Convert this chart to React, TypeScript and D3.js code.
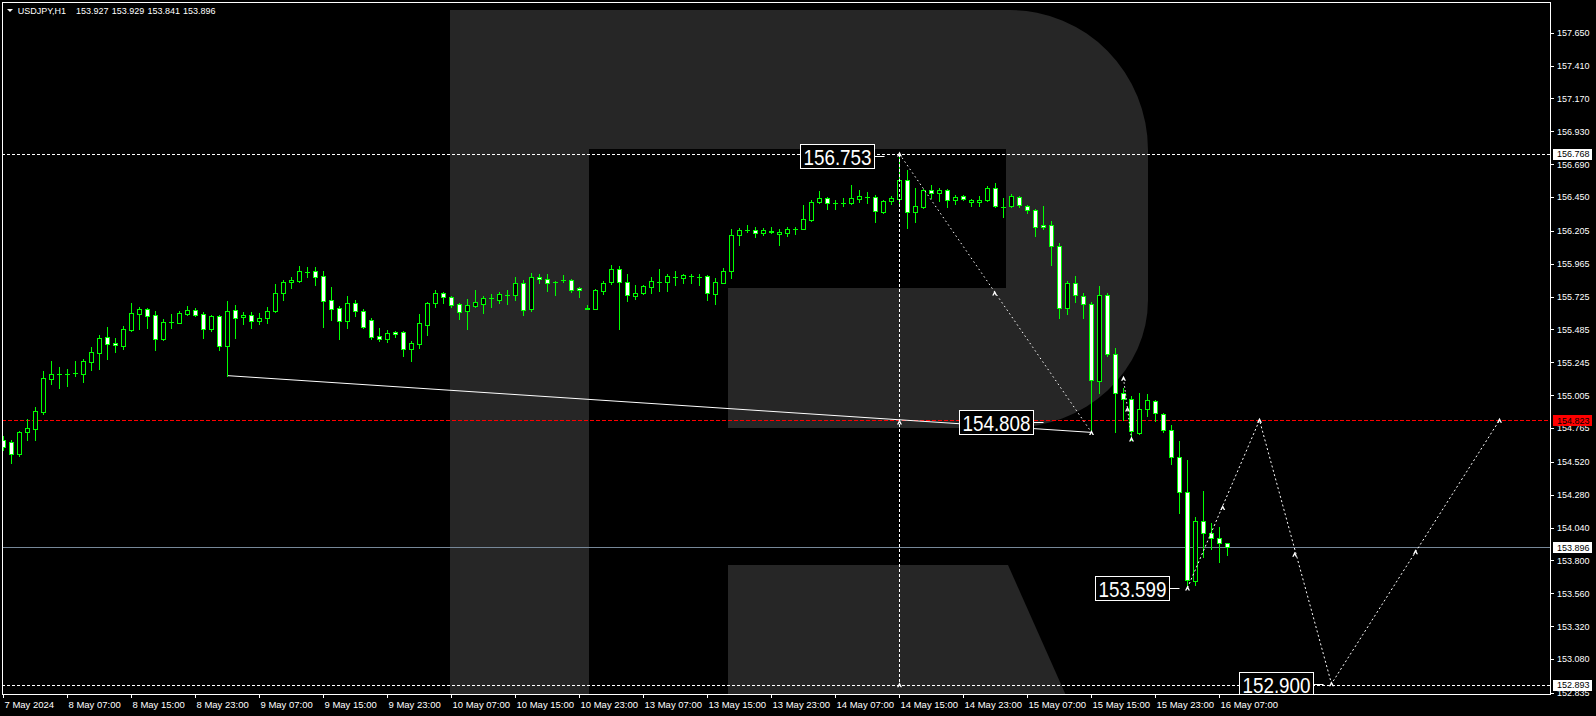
import React from 'react';
import * as d3 from 'd3';

const W = 1596;
const H = 716;

const symbolTitle = 'USDJPY,H1';
const headerValues = ['153.927', '153.929', '153.841', '153.896'];

const opens = [
  154.678, 154.661, 154.578, 154.739, 154.761, 154.885, 155.125, 155.157, 155.160, 155.165,
  155.162, 155.250, 155.315, 155.428, 155.384, 155.366, 155.481, 155.600, 155.632, 155.588,
  155.417, 155.539, 155.534, 155.600, 155.625, 155.596, 155.490, 155.581, 155.366, 155.625,
  155.574, 155.588, 155.545, 155.566, 155.618, 155.749, 155.829, 155.841, 155.904, 155.909,
  155.875, 155.698, 155.639, 155.549, 155.676, 155.618, 155.552, 155.437, 155.417, 155.464,
  155.464, 155.344, 155.381, 155.520, 155.680, 155.749, 155.720, 155.669, 155.622, 155.658,
  155.673, 155.712, 155.702, 155.734, 155.734, 155.822, 155.637, 155.866, 155.851, 155.830,
  155.844, 155.844, 155.786, 155.637, 155.637, 155.768, 155.829, 155.924, 155.829, 155.731,
  155.753, 155.797, 155.831, 155.831, 155.870, 155.863, 155.877, 155.866, 155.873, 155.746,
  155.826, 155.909, 156.172, 156.211, 156.213, 156.191, 156.206, 156.179, 156.191, 156.220,
  156.220, 156.286, 156.417, 156.442, 156.410, 156.410, 156.410, 156.439, 156.454, 156.449,
  156.344, 156.420, 156.439, 156.573, 156.344, 156.381, 156.500, 156.478, 156.500, 156.427,
  156.456, 156.412, 156.412, 156.427, 156.515, 156.381, 156.384, 156.449, 156.384, 156.354,
  156.245, 156.245, 156.092, 155.639, 155.822, 155.727, 155.669, 155.107, 155.734, 155.304,
  155.019, 154.976, 154.732, 154.903, 154.961, 154.866, 154.749, 154.552, 154.297, 153.652,
  154.085, 153.998, 153.961, 153.927,
];

const highs = [
  154.707, 154.678, 154.744, 154.831, 154.919, 155.182, 155.255, 155.209, 155.197, 155.255,
  155.269, 155.357, 155.444, 155.502, 155.420, 155.510, 155.678, 155.649, 155.642, 155.618,
  155.559, 155.598, 155.618, 155.656, 155.642, 155.612, 155.590, 155.590, 155.693, 155.664,
  155.612, 155.612, 155.605, 155.647, 155.817, 155.846, 155.868, 155.948, 155.941, 155.941,
  155.912, 155.795, 155.656, 155.729, 155.700, 155.632, 155.566, 155.497, 155.481, 155.474,
  155.474, 155.400, 155.600, 155.685, 155.773, 155.758, 155.729, 155.676, 155.705, 155.773,
  155.727, 155.742, 155.756, 155.773, 155.868, 155.846, 155.895, 155.888, 155.888, 155.839,
  155.880, 155.851, 155.797, 155.661, 155.778, 155.837, 155.953, 155.946, 155.890, 155.807,
  155.810, 155.866, 155.926, 155.888, 155.910, 155.888, 155.888, 155.888, 155.880, 155.863,
  155.934, 156.216, 156.223, 156.245, 156.230, 156.223, 156.230, 156.216, 156.230, 156.230,
  156.393, 156.432, 156.495, 156.454, 156.427, 156.442, 156.539, 156.500, 156.488, 156.463,
  156.430, 156.457, 156.765, 156.646, 156.515, 156.508, 156.537, 156.515, 156.508, 156.463,
  156.466, 156.437, 156.456, 156.529, 156.551, 156.442, 156.471, 156.456, 156.391, 156.361,
  156.384, 156.274, 156.114, 155.837, 155.873, 155.749, 155.683, 155.804, 155.749, 155.348,
  155.056, 154.998, 155.019, 155.012, 154.971, 154.873, 154.786, 154.669, 154.533, 154.115,
  154.304, 154.071, 154.042, 153.929,
];

const lows = [
  154.605, 154.511, 154.561, 154.678, 154.681, 154.866, 155.087, 155.060, 155.072, 155.146,
  155.104, 155.189, 155.197, 155.269, 155.322, 155.342, 155.474, 155.490, 155.497, 155.337,
  155.408, 155.498, 155.530, 155.593, 155.585, 155.424, 155.476, 155.337, 155.148, 155.424,
  155.527, 155.497, 155.527, 155.534, 155.612, 155.700, 155.790, 155.831, 155.868, 155.810,
  155.503, 155.554, 155.417, 155.497, 155.585, 155.497, 155.417, 155.403, 155.393, 155.428,
  155.291, 155.255, 155.352, 155.445, 155.651, 155.676, 155.651, 155.563, 155.490, 155.647,
  155.607, 155.651, 155.680, 155.673, 155.702, 155.593, 155.622, 155.822, 155.764, 155.739,
  155.830, 155.756, 155.724, 155.632, 155.632, 155.746, 155.815, 155.485, 155.690, 155.705,
  155.746, 155.753, 155.766, 155.766, 155.812, 155.826, 155.826, 155.807, 155.702, 155.671,
  155.824, 155.863, 156.104, 156.198, 156.162, 156.176, 156.189, 156.104, 156.169, 156.179,
  156.216, 156.274, 156.410, 156.366, 156.366, 156.388, 156.402, 156.417, 156.405, 156.272,
  156.336, 156.398, 156.405, 156.223, 156.271, 156.371, 156.442, 156.420, 156.376, 156.398,
  156.427, 156.384, 156.384, 156.420, 156.381, 156.303, 156.376, 156.376, 156.332, 156.169,
  156.216, 155.954, 155.566, 155.596, 155.683, 155.566, 154.734, 155.019, 155.289, 154.734,
  154.825, 154.678, 154.722, 154.856, 154.820, 154.734, 154.501, 154.144, 153.599, 153.619,
  153.822, 153.887, 153.791, 153.841,
];

const closes = [
  154.625, 154.578, 154.734, 154.764, 154.888, 155.128, 155.157, 155.159, 155.161, 155.166,
  155.252, 155.318, 155.420, 155.381, 155.369, 155.486, 155.603, 155.632, 155.585, 155.417,
  155.537, 155.540, 155.603, 155.625, 155.593, 155.490, 155.581, 155.366, 155.618, 155.566,
  155.588, 155.545, 155.566, 155.618, 155.749, 155.829, 155.844, 155.912, 155.905, 155.870,
  155.695, 155.637, 155.549, 155.676, 155.622, 155.501, 155.428, 155.417, 155.459, 155.449,
  155.344, 155.386, 155.530, 155.676, 155.749, 155.720, 155.666, 155.615, 155.661, 155.683,
  155.712, 155.713, 155.742, 155.735, 155.822, 155.625, 155.866, 155.851, 155.822, 155.831,
  155.845, 155.771, 155.771, 155.638, 155.771, 155.822, 155.924, 155.829, 155.734, 155.749,
  155.800, 155.837, 155.832, 155.873, 155.871, 155.880, 155.878, 155.867, 155.749, 155.829,
  155.909, 156.172, 156.208, 156.212, 156.191, 156.208, 156.194, 156.194, 156.216, 156.221,
  156.289, 156.413, 156.442, 156.410, 156.411, 156.411, 156.442, 156.459, 156.455, 156.346,
  156.420, 156.442, 156.573, 156.344, 156.386, 156.500, 156.478, 156.500, 156.427, 156.449,
  156.434, 156.427, 156.427, 156.515, 156.384, 156.382, 156.456, 156.391, 156.354, 156.230,
  156.230, 156.092, 155.639, 155.822, 155.734, 155.669, 155.114, 155.734, 155.304, 155.019,
  154.976, 154.742, 154.903, 154.968, 154.873, 154.749, 154.552, 154.297, 153.655, 154.085,
  153.998, 153.961, 153.925, 153.896,
];

const timeLabels = [
  '7 May 2024', '8 May 07:00', '8 May 15:00', '8 May 23:00', '9 May 07:00', '9 May 15:00',
  '9 May 23:00', '10 May 07:00', '10 May 15:00', '10 May 23:00', '13 May 07:00', '13 May 15:00',
  '13 May 23:00', '14 May 07:00', '14 May 15:00', '14 May 23:00', '15 May 07:00', '15 May 15:00',
  '15 May 23:00', '16 May 07:00',
];
const barsPerLabel = 8;

const priceTicks = [
  '157.650', '157.410', '157.170', '156.930', '156.690', '156.450', '156.205', '155.965',
  '155.725', '155.485', '155.245', '155.005', '154.765', '154.520', '154.280', '154.040',
  '153.800', '153.560', '153.320', '153.080', '152.835',
];

// horizontal levels
const highLevel = 156.768;
const lowLevel = 152.893;
const askLevel = 154.823;
const bidLevel = 153.896;

// analysis drawings (bar index, price)
const trendIdx = [28, 136];
const diagIdx = [112, 136];
const diagPrice = [156.765, 154.734];
const forecastIdx = [148, 157, 166, 187];
const forecastPrice = [153.599, 154.823, 152.9, 154.823];
const smallPathIdx = [140, 141];
const smallPathPrice = [155.129, 154.686];
const verticalIdx = 112;

const markerIdx = [112, 112, 112, 123.9, 136, 140, 140.5, 141, 148, 152.4, 157, 161.4, 166, 176.5, 187];
const markerPrice = [156.765, 154.81, 152.893, 155.751, 154.734, 155.129, 154.905, 154.686, 153.599, 154.187, 154.823, 153.845, 152.9, 153.864, 154.823];

const boxTexts = ['156.753', '154.808', '153.599', '152.900'];
const boxPrices = [156.753, 154.808, 153.599, 152.9];
const boxIdx = [104.2, 124.1, 141.1, 159.0];

const PL = 2, PT = 2, PR = 1550, PB = 694;
const GREEN = '#00ff00';
const FONT = '"Liberation Sans", Arial, sans-serif';

export default function App() {
  const x = d3.scaleLinear().domain([0, 1]).range([3.5, 11.5]);
  const y = d3.scaleLinear().domain([152.835, 157.65]).range([692.7, 32.7]);

  const candles = opens.map((o, i) => ({ o, h: highs[i], l: lows[i], c: closes[i], i }));

  const line = d3.line<[number, number]>().x(d => d[0]).y(d => d[1]);

  const trendPts: [number, number][] = trendIdx.map(i => [x(i), y(lows[i])]);
  const diagPts: [number, number][] = diagIdx.map((i, k) => [x(i), y(diagPrice[k])]);
  const forecastPts: [number, number][] = forecastIdx.map((i, k) => [x(i), y(forecastPrice[k])]);
  const smallPts: [number, number][] = smallPathIdx.map((i, k) => [x(i), y(smallPathPrice[k])]);

  const markerPath = 'M-2.5,2.5 L0,-2.5 L2.5,2.5 L1,2.5 L0,0.5 L-1,2.5 Z';

  const px = (v: number) => Math.round(v) + 0.5;

  const axisBoxes = [
    { v: highLevel, bg: '#ffffff', fg: '#000000' },
    { v: askLevel, bg: '#ff0000', fg: '#000000' },
    { v: bidLevel, bg: '#ffffff', fg: '#000000' },
    { v: lowLevel, bg: '#ffffff', fg: '#000000' },
  ];

  return (
    <div style={{ position: 'absolute', left: 0, top: 0, width: W, height: H, background: '#000' }}>
      <svg width={W} height={H} style={{ display: 'block' }} fontFamily={FONT}>
        <defs>
          <clipPath id="plot">
            <rect x={PL} y={PT} width={PR - PL} height={PB - PT} />
          </clipPath>
        </defs>
        <rect x={0} y={0} width={W} height={H} fill="#000" />

        {/* watermark R */}
        <g clipPath="url(#plot)" fill="#262626">
          <path d="M450,10 H1010 A138,140 0 0 1 1148,150 V300 A138,128 0 0 1 1010,428 H728 V288 H1006 V149 H589 V700 H450 Z" />
          <path d="M728,565 H1008 L1068,700 H728 Z" />
        </g>

        <g clipPath="url(#plot)">
          {/* horizontal level lines */}
          <line x1={PL} x2={PR} y1={px(y(highLevel))} y2={px(y(highLevel))} stroke="#fff" strokeDasharray="3,2" shapeRendering="crispEdges" />
          <line x1={PL} x2={PR} y1={px(y(lowLevel))} y2={px(y(lowLevel))} stroke="#fff" strokeDasharray="3,2" shapeRendering="crispEdges" />
          <line x1={PL} x2={PR} y1={px(y(askLevel))} y2={px(y(askLevel))} stroke="#ff0000" strokeDasharray="4,2" shapeRendering="crispEdges" />
          <line x1={PL} x2={PR} y1={px(y(bidLevel))} y2={px(y(bidLevel))} stroke="#778899" shapeRendering="crispEdges" />

          {/* trend line */}
          <path d={line(trendPts) || ''} stroke="#fff" fill="none" strokeWidth={1} />

          {/* candles */}
          <g shapeRendering="crispEdges">
            {candles.map(d => {
              const cx = x(d.i);
              const yo = y(d.o), yc = y(d.c);
              const top = Math.round(Math.min(yo, yc));
              const bot = Math.round(Math.max(yo, yc));
              const bull = d.c > d.o;
              return (
                <g key={d.i}>
                  <line x1={cx} x2={cx} y1={Math.round(y(d.h))} y2={Math.round(y(d.l)) + 1} stroke={GREEN} />
                  {bot - top < 1 ? (
                    <line x1={cx - 2.5} x2={cx + 2.5} y1={top + 0.5} y2={top + 0.5} stroke={GREEN} />
                  ) : (
                    <rect x={cx - 2} y={top + 0.5} width={4} height={bot - top} fill={bull ? '#000' : '#fff'} stroke={GREEN} />
                  )}
                </g>
              );
            })}
          </g>

          {/* vertical dashed line */}
          <line x1={px(x(verticalIdx) - 0.5)} x2={px(x(verticalIdx) - 0.5)} y1={y(diagPrice[0])} y2={y(lowLevel)} stroke="#fff" strokeDasharray="3,2" shapeRendering="crispEdges" />

          {/* dotted diagonal */}
          <path d={line(diagPts) || ''} stroke="#fff" fill="none" strokeDasharray="1.5,3" />
          {/* forecast path */}
          <path d={line(forecastPts) || ''} stroke="#fff" fill="none" strokeDasharray="2,2.5" />
          <path d={line(smallPts) || ''} stroke="#fff" fill="none" strokeDasharray="1.5,2.5" />

          {/* markers */}
          {markerIdx.map((mi, k) => (
            <path key={k} d={markerPath} transform={`translate(${x(mi)},${y(markerPrice[k])})`} fill="#fff" />
          ))}

          {/* label boxes */}
          {boxTexts.map((t, k) => {
            const cx = x(boxIdx[k]);
            const cy = y(boxPrices[k]);
            const bw = 74, bh = 24;
            const left = Math.round(cx - bw / 2) + 0.5;
            const topY = Math.round(cy - bh / 2) + 0.5;
            return (
              <g key={t}>
                <line x1={left + bw} x2={left + bw + 10} y1={topY + bh / 2} y2={topY + bh / 2} stroke="#fff" />
                <rect x={left} y={topY} width={bw} height={bh} fill="#000" stroke="#fff" />
                <text x={left + 3} y={topY + bh / 2 + 8} fontSize={22} fill="#fff" textLength={68} lengthAdjust="spacingAndGlyphs">{t}</text>
              </g>
            );
          })}
        </g>

        {/* frame */}
        <rect x={PL + 0.5} y={PT + 0.5} width={PR - PL} height={PB - PT} fill="none" stroke="#fff" shapeRendering="crispEdges" />

        {/* header */}
        <path d="M7,9 L13,9 L10,12 Z" fill="#fff" />
        <text x={17.7} y={14} fontSize={9} fill="#fff">{symbolTitle}</text>
        {headerValues.map((v, k) => (
          <text key={k} x={76 + k * 35.7} y={14} fontSize={9} fill="#fff">{v}</text>
        ))}

        {/* price axis */}
        <g shapeRendering="crispEdges">
          {priceTicks.map(t => {
            const yy = y(+t);
            return (
              <g key={t}>
                <line x1={PR} x2={PR + 4} y1={Math.round(yy) + 0.5} y2={Math.round(yy) + 0.5} stroke="#fff" />
              </g>
            );
          })}
        </g>
        {priceTicks.map(t => (
          <text key={t} x={1557} y={y(+t) + 3.3} fontSize={9} fill="#fff">{t}</text>
        ))}
        {axisBoxes.map(b => {
          const yy = y(b.v);
          return (
            <g key={b.v}>
              <rect x={1552.5} y={Math.round(yy) - 5} width={39} height={11} fill={b.bg} shapeRendering="crispEdges" />
              <text x={1557} y={yy + 3.3} fontSize={9} fill={b.fg}>{b.v.toFixed(3)}</text>
            </g>
          );
        })}

        {/* time axis */}
        {timeLabels.map((t, k) => {
          const tx = Math.round(x(k * barsPerLabel) - 1) + 0.5;
          return (
            <g key={t}>
              <line x1={tx} x2={tx} y1={PB} y2={PB + 4} stroke="#fff" shapeRendering="crispEdges" />
              <text x={tx + 1} y={707.5} fontSize={9.5} fill="#fff">{t}</text>
            </g>
          );
        })}
      </svg>
    </div>
  );
}
